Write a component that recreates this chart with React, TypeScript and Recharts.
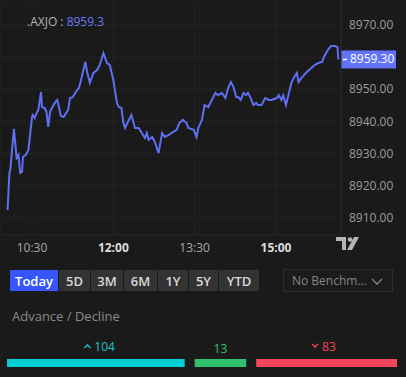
import React from "react";
import {
  LineChart,
  Line,
  XAxis,
  YAxis,
  CartesianGrid,
  ReferenceLine,
  BarChart,
  Bar,
  LabelList
} from "recharts";

// minutes after 10:00
const minutes = [
  3, 5, 6, 10, 13, 15, 17, 19, 20, 23, 26, 30, 31, 33, 35, 37, 40, 41, 44, 46, 48, 50, 52, 56, 58,
  62, 65, 67, 70, 72, 75, 80, 82, 85, 89, 91, 94, 98, 102, 105, 109, 113, 116, 120, 124, 126, 129,
  131, 133, 136, 140, 144, 148, 155, 157, 159, 163, 166, 170, 174, 177, 181, 186, 190, 193, 197,
  201, 203, 209, 212, 214, 218, 221, 225, 229, 233, 236, 240, 244, 247, 250, 253, 256, 258, 261,
  264, 267, 269, 272, 275, 278, 280, 284, 288, 292, 295, 301, 303, 306, 308, 311, 317, 320, 323,
  325, 328, 334, 340, 343, 347, 351, 353, 356, 359, 361, 365, 368, 369
];
const prices = [
  8912.5, 8924.0, 8924.9, 8937.7, 8928.7, 8929.6, 8924.0, 8924.3, 8929.0, 8929.6, 8931.1, 8941.4,
  8942.0, 8941.1, 8942.6, 8943.6, 8949.2, 8944.5, 8944.2, 8943.0, 8938.3, 8943.0, 8944.2, 8946.1,
  8946.7, 8941.7, 8941.4, 8942.3, 8943.6, 8947.3, 8947.6, 8949.8, 8950.4, 8953.8, 8958.5, 8955.4,
  8952.0, 8955.1, 8956.0, 8957.6, 8961.3, 8958.2, 8957.6, 8952.9, 8945.8, 8944.5, 8944.2, 8939.8,
  8938.0, 8939.8, 8942.0, 8938.0, 8938.0, 8934.9, 8936.4, 8934.3, 8935.2, 8933.6, 8930.2, 8936.4,
  8935.2, 8935.8, 8936.7, 8937.4, 8939.5, 8940.5, 8939.5, 8938.0, 8937.4, 8935.2, 8938.0, 8940.5,
  8945.1, 8944.5, 8946.7, 8948.9, 8948.2, 8948.9, 8947.3, 8950.4, 8952.3, 8950.7, 8947.6, 8947.6,
  8946.7, 8948.9, 8948.2, 8948.9, 8947.3, 8945.1, 8945.8, 8945.1, 8945.1, 8947.3, 8946.7, 8946.7,
  8947.3, 8948.2, 8946.7, 8948.2, 8945.1, 8952.0, 8953.8, 8955.1, 8952.3, 8953.5, 8955.4, 8956.9,
  8957.6, 8958.2, 8958.5, 8960.1, 8961.6, 8962.9, 8963.5, 8963.5, 8963.2, 8959.3
];
const timeTicks = [30, 120, 210, 300];
const boldTimeTicks = [120, 300];
const priceTicks = [8910, 8920, 8930, 8940, 8950, 8960, 8970];
const lastPrice = 8959.3;

const ranges = ["Today", "5D", "3M", "6M", "1Y", "5Y", "YTD"];
const rangeWidths = [48, 31, 32, 33, 30, 29, 40];

const breadthKeys = ["advance", "unchanged", "decline"];
const breadthValues = [104, 13, 83];
const breadthColors = ["#00ced1", "#2fc26b", "#f5455c"];
const breadthMinShown = 35; // small groups still get a visible bar

const series = minutes.map((m, i) => ({ t: m, price: prices[i] }));
const breadthRow: any = { name: "breadth" };
breadthKeys.forEach((k, i) => {
  breadthRow[k] = Math.max(breadthValues[i], breadthMinShown);
});

const LINE = "#5e6ff3";
const BG = "#1a1a1a";

const fmtTime = (m: number) => {
  const h = 10 + Math.floor(m / 60);
  const mm = m % 60;
  return `${h}:${mm < 10 ? "0" : ""}${mm}`;
};

const TimeTick = ({ x, y, payload }: any) => {
  const bold = boldTimeTicks.includes(payload.value);
  return (
    <text
      x={x}
      y={y + 9}
      textAnchor="middle"
      fontSize={12}
      fontWeight={bold ? 700 : 400}
      fill={bold ? "#dcdcdc" : "#a8a8a8"}
    >
      {fmtTime(payload.value)}
    </text>
  );
};

const PriceTick = ({ x, y, payload }: any) => {
  if (Math.abs(payload.value - lastPrice) < 3) return null;
  return (
    <text x={x} y={y + 4} fontSize={12} fill="#9c9c9c" textAnchor="start">
      {payload.value.toFixed(2)}
    </text>
  );
};

const LastPriceTag = ({ viewBox }: any) => {
  if (!viewBox) return null;
  const x = viewBox.x + viewBox.width;
  const y = viewBox.y;
  return (
    <g>
      <rect x={x} y={y - 9} width={55} height={18} fill="#6273f6" />
      <line x1={x + 2} x2={x + 6} y1={y} y2={y} stroke="#ffffff" strokeWidth={1.5} />
      <text x={x + 9} y={y + 4} fontSize={12} fill="#ffffff">
        {lastPrice.toFixed(2)}
      </text>
    </g>
  );
};

const BreadthShape = (idx: number) => (props: any) => {
  const { x, y, width, height } = props;
  const left = idx === 0 ? x : x + 5;
  const right = idx === 2 ? x + width : x + width - 5;
  return <rect x={left} y={y} width={Math.max(0, right - left)} height={height} fill={breadthColors[idx]} />;
};

const BreadthLabel = (idx: number) => (props: any) => {
  const { x, y, width } = props;
  const cx = x + width / 2;
  const ty = y - 8;
  const color = breadthColors[idx];
  const txt = String(breadthValues[idx]);
  if (idx === 1) {
    return (
      <text x={cx} y={ty + 2} textAnchor="middle" fontSize={12} fill="#2fc26b">
        {txt}
      </text>
    );
  }
  const up = idx === 0;
  return (
    <g>
      <polyline
        points={
          up
            ? `${cx - 14},${ty - 3} ${cx - 11},${ty - 6} ${cx - 8},${ty - 3}`
            : `${cx - 12},${ty - 7} ${cx - 9},${ty - 4} ${cx - 6},${ty - 7}`
        }
        fill="none"
        stroke={up ? "#1ec4c6" : color}
        strokeWidth={1.3}
      />
      <text x={up ? cx - 4 : cx - 2} y={ty} fontSize={12} fill={up ? "#1ec4c6" : color}>
        {txt}
      </text>
    </g>
  );
};

const TvLogo = () => (
  <svg width={24} height={14} style={{ position: "absolute", left: 336, top: 237 }}>
    <rect x={0} y={0} width={10} height={4} fill="#b4b4b4" />
    <rect x={6} y={0} width={4} height={13} fill="#b4b4b4" />
    <circle cx={14} cy={2.5} r={2.3} fill="#b4b4b4" />
    <polygon points="18,0 23,0 16,13 11,13" fill="#b4b4b4" />
  </svg>
);

export default function App() {
  return (
    <div
      style={{
        position: "absolute",
        left: 0,
        top: 0,
        width: 406,
        height: 377,
        background: BG,
        fontFamily: "'Open Sans', sans-serif",
        overflow: "hidden"
      }}
    >
      <LineChart width={406} height={258} data={series} margin={{ top: 0, right: 0, left: 0, bottom: 0 }}>
        <CartesianGrid stroke="#242424" strokeWidth={1} />
        <XAxis
          dataKey="t"
          type="number"
          domain={[-5.4, 371.9]}
          ticks={timeTicks}
          tick={<TimeTick />}
          tickLine={false}
          axisLine={false}
          height={23}
        />
        <YAxis
          orientation="right"
          type="number"
          domain={[8904.7, 8977.8]}
          ticks={priceTicks}
          tick={<PriceTick />}
          tickLine={false}
          axisLine={{ stroke: "#2a2a2a" }}
          tickMargin={2}
          width={65}
        />
        <Line
          dataKey="price"
          type="linear"
          stroke={LINE}
          strokeWidth={2}
          dot={false}
          activeDot={false}
          isAnimationActive={false}
        />
        <ReferenceLine y={lastPrice} stroke="none" label={<LastPriceTag />} />
      </LineChart>

      <div style={{ position: "absolute", left: 27, top: 13, fontSize: 12, color: "#b4b4b4" }}>
        .AXJO : <span style={{ color: "#6b7bf5" }}>8959.3</span>
      </div>

      <TvLogo />

      <div style={{ position: "absolute", left: 10, top: 270, display: "flex", gap: 1 }}>
        {ranges.map((r, i) => (
          <div
            key={r}
            style={{
              width: rangeWidths[i],
              height: 21,
              background: i === 0 ? "#3556fb" : "#333333",
              color: i === 0 ? "#ffffff" : "#d8d8d8",
              fontSize: 13,
              fontWeight: 600,
              display: "flex",
              alignItems: "center",
              justifyContent: "center"
            }}
          >
            {r}
          </div>
        ))}
      </div>

      <div
        style={{
          position: "absolute",
          left: 283,
          top: 269,
          width: 100,
          height: 21,
          border: "1px solid #2c2c2c",
          background: "#1b1b1b",
          color: "#858585",
          fontSize: 12,
          display: "flex",
          alignItems: "center",
          paddingLeft: 8,
          boxSizing: "content-box"
        }}
      >
        No Benchm...
        <svg width={12} height={8} style={{ position: "absolute", left: 87, top: 8 }}>
          <polyline points="1,1 6,6 11,1" fill="none" stroke="#858585" strokeWidth={1.3} />
        </svg>
      </div>

      <div style={{ position: "absolute", left: 12, top: 307, fontSize: 13, color: "#8a8a8a" }}>
        Advance / Decline
      </div>

      <div style={{ position: "absolute", left: 0, top: 330 }}>
        <BarChart
          width={406}
          height={45}
          data={[breadthRow]}
          layout="vertical"
          margin={{ top: 29, right: 9, left: 7, bottom: 8 }}
          barCategoryGap={0}
        >
          <XAxis type="number" hide domain={[0, "dataMax"]} />
          <YAxis type="category" dataKey="name" hide />
          {breadthKeys.map((k, i) => (
            <Bar key={k} dataKey={k} stackId="b" shape={BreadthShape(i)} isAnimationActive={false}>
              <LabelList dataKey={k} content={BreadthLabel(i)} />
            </Bar>
          ))}
        </BarChart>
      </div>
    </div>
  );
}
